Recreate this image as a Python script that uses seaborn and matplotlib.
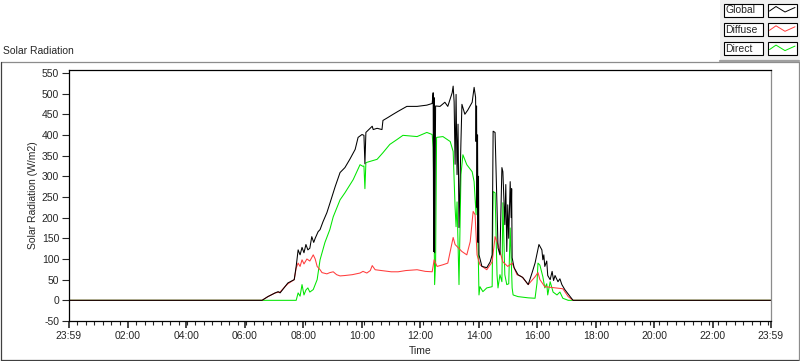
import pandas as pd
import matplotlib
matplotlib.use("Agg")
import matplotlib.pyplot as plt
from matplotlib.ticker import FixedLocator, AutoMinorLocator
from matplotlib.patches import Rectangle
import seaborn as sns

# --- data (time of day, W/m2) ---
global_time = ["00:00", "06:35", "06:47", "07:02", "07:08", "07:12", "07:22", "07:28", "07:41", "07:45",
               "07:49", "07:53", "07:57", "08:01", "08:05", "08:09", "08:13", "08:17", "08:21", "08:24",
               "08:30", "08:34", "08:40", "08:48", "08:54", "09:05", "09:15", "09:25", "09:35", "09:46",
               "09:52", "10:00", "10:04", "10:06", "10:08", "10:21", "10:23", "10:31", "10:41", "10:43",
               "10:53", "11:04", "11:14", "11:32", "11:53", "12:13", "12:24", "12:26", "12:27", "12:28",
               "12:29", "12:31", "12:40", "12:50", "12:56", "13:05", "13:07", "13:09", "13:11", "13:13",
               "13:15", "13:17", "13:19", "13:23", "13:25", "13:31", "13:37", "13:46", "13:50", "13:53",
               "13:54", "13:55", "13:56", "13:57", "13:58", "13:59", "14:00", "14:06", "14:16", "14:23",
               "14:27", "14:29", "14:33", "14:37", "14:39", "14:43", "14:47", "14:49", "14:53", "14:55",
               "14:57", "14:59", "15:01", "15:04", "15:06", "15:07", "15:08", "15:12", "15:20", "15:30",
               "15:41", "15:49", "15:55", "16:03", "16:09", "16:11", "16:13", "16:15", "16:19", "16:21",
               "16:26", "16:30", "16:33", "16:36", "16:42", "16:46", "16:50", "16:56", "17:07", "17:13",
               "23:59"]
global_wm2 = [0, 0, 9, 18, 21, 18, 33, 42, 50, 82,
              122, 110, 128, 115, 135, 122, 126, 154, 140, 150,
              166, 171, 190, 212, 234, 275, 309, 321, 341, 365,
              394, 401, 399, 330, 406, 421, 413, 416, 413, 435,
              442, 450, 457, 469, 469, 472, 476, 502, 118, 490,
              115, 470, 469, 479, 469, 502, 518, 480, 329, 498,
              304, 426, 176, 384, 474, 450, 460, 479, 515, 491,
              384, 470, 224, 400, 140, 300, 110, 82, 79, 93,
              110, 409, 406, 224, 127, 110, 321, 311, 183, 280,
              118, 231, 150, 287, 200, 270, 103, 79, 62, 55,
              38, 67, 90, 135, 122, 98, 110, 82, 95, 60,
              50, 70, 48, 60, 45, 52, 38, 26, 9, 0,
              0]

diffuse_time = ["00:00", "06:35", "06:47", "07:02", "07:12", "07:22", "07:28", "07:41", "07:45", "07:49",
                "07:53", "07:57", "08:01", "08:07", "08:13", "08:20", "08:24", "08:28", "08:34", "08:38",
                "08:48", "08:54", "09:01", "09:08", "09:15", "09:25", "09:40", "09:56", "10:02", "10:10",
                "10:17", "10:21", "10:27", "10:40", "11:00", "11:14", "11:30", "11:53", "12:10", "12:24",
                "12:28", "12:34", "12:46", "12:56", "13:07", "13:11", "13:25", "13:35", "13:42", "13:48",
                "13:52", "13:56", "14:02", "14:16", "14:27", "14:33", "14:39", "14:49", "14:59", "15:08",
                "15:18", "15:28", "15:41", "15:55", "16:01", "16:05", "16:15", "16:30", "16:52", "17:03",
                "17:13", "23:59"]
diffuse_wm2 = [0, 0, 9, 18, 20, 33, 40, 50, 78, 90,
               82, 98, 88, 100, 95, 110, 100, 82, 74, 67,
               64, 67, 69, 62, 59, 60, 62, 66, 70, 66,
               72, 84, 74, 72, 69, 69, 72, 74, 70, 69,
               98, 82, 86, 90, 152, 135, 118, 110, 142, 215,
               207, 110, 86, 74, 93, 154, 135, 93, 82, 90,
               62, 57, 38, 57, 67, 50, 33, 31, 28, 9,
               0, 0]

direct_time = ["00:00", "07:45", "07:49", "07:53", "07:57", "08:01", "08:05", "08:09", "08:13", "08:20",
               "08:28", "08:34", "08:44", "08:54", "09:01", "09:15", "09:25", "09:42", "09:56", "10:02",
               "10:04", "10:06", "10:08", "10:31", "10:43", "10:57", "11:12", "11:24", "11:53", "12:13",
               "12:24", "12:26", "12:27", "12:29", "12:31", "12:33", "12:46", "13:01", "13:07", "13:11",
               "13:13", "13:15", "13:19", "13:23", "13:27", "13:35", "13:46", "13:50", "13:54", "13:56",
               "13:58", "14:00", "14:02", "14:08", "14:16", "14:27", "14:29", "14:33", "14:37", "14:39",
               "14:43", "14:47", "14:49", "14:53", "14:57", "15:01", "15:04", "15:08", "15:10", "15:20",
               "15:41", "15:55", "15:59", "16:01", "16:05", "16:11", "16:15", "16:19", "16:21", "16:26",
               "16:32", "16:40", "16:46", "16:52", "17:03", "23:59"]
direct_wm2 = [0, 0, 18, 10, 38, 13, 25, 30, 20, 26,
              50, 98, 140, 171, 202, 243, 260, 292, 328, 324,
              325, 270, 333, 341, 357, 377, 389, 399, 396, 406,
              401, 370, 290, 38, 93, 394, 396, 384, 360, 224,
              178, 238, 38, 304, 352, 328, 311, 287, 207, 304,
              142, 13, 33, 21, 30, 33, 263, 260, 62, 30,
              62, 45, 236, 62, 38, 40, 175, 30, 13, 9,
              6, 5, 42, 90, 85, 57, 30, 40, 13, 45,
              20, 13, 20, 5, 0, 0]

series_names = ["Global", "Diffuse", "Direct"]
series_colors = {"Global": "#000000", "Diffuse": "#ff3c3c", "Direct": "#00e600"}

x_tick_labels = ["23:59", "02:00", "04:00", "06:00", "08:00", "10:00", "12:00",
                 "14:00", "16:00", "18:00", "20:00", "22:00", "23:59"]
y_ticks = [-50, 0, 50, 100, 150, 200, 250, 300, 350, 400, 450, 500, 550]


def to_minutes(hhmm):
    h, m = hhmm.split(":")
    return int(h) * 60 + int(m)


frames = []
for name, times, vals in [("Global", global_time, global_wm2),
                          ("Diffuse", diffuse_time, diffuse_wm2),
                          ("Direct", direct_time, direct_wm2)]:
    frames.append(pd.DataFrame({"minute": [to_minutes(t) for t in times],
                                "wm2": vals, "series": name}))
df = pd.concat(frames, ignore_index=True)

# first tick is 23:59 of the previous day
x_ticks = [to_minutes(x_tick_labels[0]) - 1440] + [to_minutes(t) for t in x_tick_labels[1:]]

sns.set_style("white")
plt.rcParams["font.family"] = ["Liberation Sans", "DejaVu Sans"]
FS = 7.5

W, H = 800, 361
fig = plt.figure(figsize=(W / 100, H / 100), dpi=100)

# background layer in pixel coordinates (frame, title, legend)
bg = fig.add_axes([0, 0, 1, 1])
bg.set_xlim(0, W)
bg.set_ylim(H, 0)
bg.axis("off")
bg.add_patch(Rectangle((720, 0), 80, 61, facecolor="#f0f0f0", edgecolor="none"))
bg.plot([0.5, 798.5], [61.5, 61.5], color="#8c8c8c", lw=0.9)
bg.plot([720, 799], [61.2, 61.2], color="#a0a0a0", lw=1.6)
bg.plot([0.5, 0.5], [61.5, 360.5], color="#404040", lw=0.9)
bg.plot([0.5, 798.5], [360.3, 360.3], color="#404040", lw=0.9)
bg.plot([798.8, 798.8], [61.5, 360.5], color="#8c8c8c", lw=0.9)
bg.text(3, 51.5, "Solar Radiation", fontsize=FS, ha="left", va="center")

for i, name in enumerate(series_names):
    y0 = 3.5 + i * 19.3
    bg.add_patch(Rectangle((723.5, y0), 39.5, 13, facecolor="white", edgecolor="black", lw=0.8))
    bg.text(725.5, y0 + 6.8, name, fontsize=FS, ha="left", va="center")
    bg.add_patch(Rectangle((767.5, y0), 29.5, 13, facecolor="white", edgecolor="black", lw=0.8))
    zx = [769.5, 776, 785, 795]
    zy = [y0 + 7.5, y0 + 3, y0 + 8.5, y0 + 4]
    bg.plot(zx, zy, color=series_colors[name], lw=0.7)

# plot area
ax = fig.add_axes([69 / W, 40 / H, 702 / W, 251 / H])
ax.set_zorder(2)
ax.set_facecolor("white")
sns.lineplot(data=df, x="minute", y="wm2", hue="series",
             hue_order=["Direct", "Diffuse", "Global"], palette=series_colors,
             estimator=None, sort=False, legend=False, linewidth=0.75, ax=ax)

ax.set_xlim(x_ticks[0], x_ticks[-1])
ax.set_ylim(-50, 557)
ax.xaxis.set_major_locator(FixedLocator(x_ticks))
ax.set_xticklabels(x_tick_labels)
ax.xaxis.set_minor_locator(AutoMinorLocator(7))
ax.set_yticks(y_ticks)
ax.set_yticklabels([str(v) for v in y_ticks])

for side in ["left", "bottom", "top"]:
    ax.spines[side].set_color("black")
    ax.spines[side].set_linewidth(0.9)
ax.spines["right"].set_color("#8c8c8c")
ax.spines["right"].set_linewidth(0.9)

ax.tick_params(axis="y", which="major", direction="out", length=5, width=0.8,
               pad=2, labelsize=FS, left=True)
ax.tick_params(axis="x", which="major", direction="out", length=5, width=1.2,
               pad=2.5, labelsize=FS, bottom=True)
ax.tick_params(axis="x", which="minor", direction="out", length=3, width=0.8, bottom=True)

ax.set_xlabel("Time", fontsize=FS, labelpad=3)
ax.set_ylabel("Solar Radiation (W/m2)", fontsize=FS, labelpad=3)

fig.savefig("out.png", dpi=100)
